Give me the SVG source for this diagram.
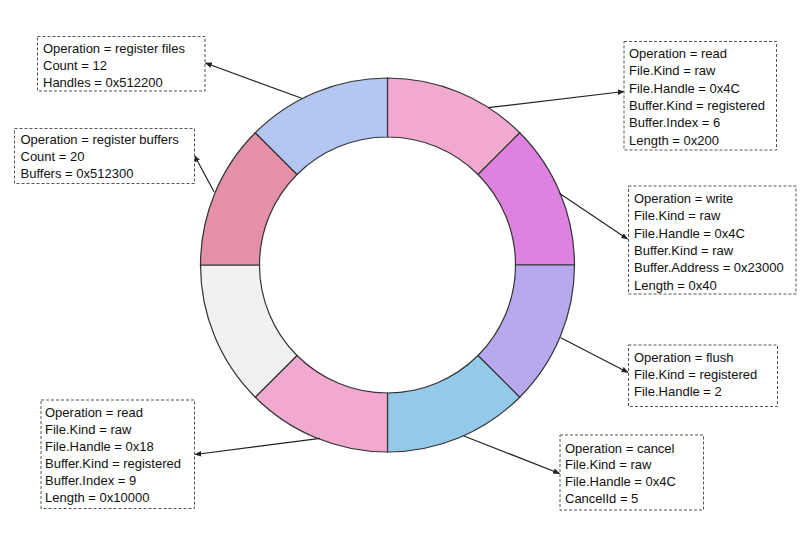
<svg xmlns="http://www.w3.org/2000/svg" width="809" height="548" viewBox="0 0 809 548">
<style>
.seg{stroke:#333;stroke-width:1.2}
.box{fill:#fff;stroke:#555;stroke-width:1;stroke-dasharray:3 2}
.t{font-family:"Liberation Sans",Arial,sans-serif;font-size:13px;fill:#111}
.c{fill:none;stroke:#222;stroke-width:1.2}
</style>
<defs>
<marker id="ah" viewBox="0 0 10 10" refX="9" refY="5" markerWidth="7" markerHeight="7" markerUnits="userSpaceOnUse" orient="auto">
<path d="M0,1 L10,5 L0,9 Z" fill="#222"/>
</marker>
</defs>
<rect width="809" height="548" fill="#fff"/>
<g id="ring">
<path class="seg" fill="#F2A9D0" d="M387.5,78 A187,187 0 0 1 519.73,132.77 L478.01,174.49 A128,128 0 0 0 387.5,137 Z"/>
<path class="seg" fill="#DE82E2" d="M519.73,132.77 A187,187 0 0 1 574.5,265 L515.5,265 A128,128 0 0 0 478.01,174.49 Z"/>
<path class="seg" fill="#B8A9EE" d="M574.5,265 A187,187 0 0 1 519.73,397.23 L478.01,355.51 A128,128 0 0 0 515.5,265 Z"/>
<path class="seg" fill="#94C9EA" d="M519.73,397.23 A187,187 0 0 1 387.5,452 L387.5,393 A128,128 0 0 0 478.01,355.51 Z"/>
<path class="seg" fill="#F2A9D0" d="M387.5,452 A187,187 0 0 1 255.27,397.23 L296.99,355.51 A128,128 0 0 0 387.5,393 Z"/>
<path class="seg" fill="#F1F1F1" d="M255.27,397.23 A187,187 0 0 1 200.5,265 L259.5,265 A128,128 0 0 0 296.99,355.51 Z"/>
<path class="seg" fill="#E490A8" d="M200.5,265 A187,187 0 0 1 255.27,132.77 L296.99,174.49 A128,128 0 0 0 259.5,265 Z"/>
<path class="seg" fill="#B4C7F3" d="M255.27,132.77 A187,187 0 0 1 387.5,78 L387.5,137 A128,128 0 0 0 296.99,174.49 Z"/>
</g>
<g id="connectors">
<line class="c" x1="301.7" y1="98.3" x2="205.5" y2="63" marker-end="url(#ah)"/>
<line class="c" x1="214" y1="191.7" x2="194.5" y2="155.5" marker-end="url(#ah)"/>
<line class="c" x1="488.3" y1="107.7" x2="624" y2="91.5" marker-end="url(#ah)"/>
<line class="c" x1="559.3" y1="193.3" x2="627.5" y2="239" marker-end="url(#ah)"/>
<line class="c" x1="560.7" y1="337.7" x2="628" y2="372.5" marker-end="url(#ah)"/>
<line class="c" x1="320" y1="438.3" x2="195" y2="454.5" marker-end="url(#ah)"/>
<line class="c" x1="463.3" y1="435.7" x2="559.5" y2="473.5" marker-end="url(#ah)"/>
</g>
<g id="box-register-files">
<rect class="box" x="37.5" y="36.5" width="167.5" height="54.5"/>
<text class="t" x="43" y="53">Operation = register files</text>
<text class="t" x="43" y="70">Count = 12</text>
<text class="t" x="43" y="86.5">Handles = 0x512200</text>
</g>
<g id="box-register-buffers">
<rect class="box" x="14.5" y="128.5" width="180" height="55"/>
<text class="t" x="20.5" y="144">Operation = register buffers</text>
<text class="t" x="20.5" y="161">Count = 20</text>
<text class="t" x="20.5" y="178">Buffers = 0x512300</text>
</g>
<g id="box-read-1">
<rect class="box" x="624" y="41.5" width="152.5" height="108.5"/>
<text class="t" x="629" y="58">Operation = read</text>
<text class="t" x="629" y="75.3">File.Kind = raw</text>
<text class="t" x="629" y="92.6">File.Handle = 0x4C</text>
<text class="t" x="629" y="109.9">Buffer.Kind = registered</text>
<text class="t" x="629" y="127.2">Buffer.Index = 6</text>
<text class="t" x="629" y="144.5">Length = 0x200</text>
</g>
<g id="box-write">
<rect class="box" x="628.5" y="186" width="167.5" height="108"/>
<text class="t" x="634" y="203">Operation = write</text>
<text class="t" x="634" y="220.3">File.Kind = raw</text>
<text class="t" x="634" y="237.6">File.Handle = 0x4C</text>
<text class="t" x="634" y="254.9">Buffer.Kind = raw</text>
<text class="t" x="634" y="272.2">Buffer.Address = 0x23000</text>
<text class="t" x="634" y="289.5">Length = 0x40</text>
</g>
<g id="box-flush">
<rect class="box" x="628.5" y="345" width="149" height="61.5"/>
<text class="t" x="634" y="362">Operation = flush</text>
<text class="t" x="634" y="379">File.Kind = registered</text>
<text class="t" x="634" y="396">File.Handle = 2</text>
</g>
<g id="box-read-2">
<rect class="box" x="41" y="400" width="153.5" height="108.5"/>
<text class="t" x="45" y="416.5">Operation = read</text>
<text class="t" x="45" y="433.6">File.Kind = raw</text>
<text class="t" x="45" y="450.7">File.Handle = 0x18</text>
<text class="t" x="45" y="467.8">Buffer.Kind = registered</text>
<text class="t" x="45" y="484.9">Buffer.Index = 9</text>
<text class="t" x="45" y="502">Length = 0x10000</text>
</g>
<g id="box-cancel">
<rect class="box" x="560" y="435" width="143.5" height="75"/>
<text class="t" x="565" y="452.5">Operation = cancel</text>
<text class="t" x="565" y="469.3">File.Kind = raw</text>
<text class="t" x="565" y="486.3">File.Handle = 0x4C</text>
<text class="t" x="565" y="503.3">CancelId = 5</text>
</g>
</svg>
